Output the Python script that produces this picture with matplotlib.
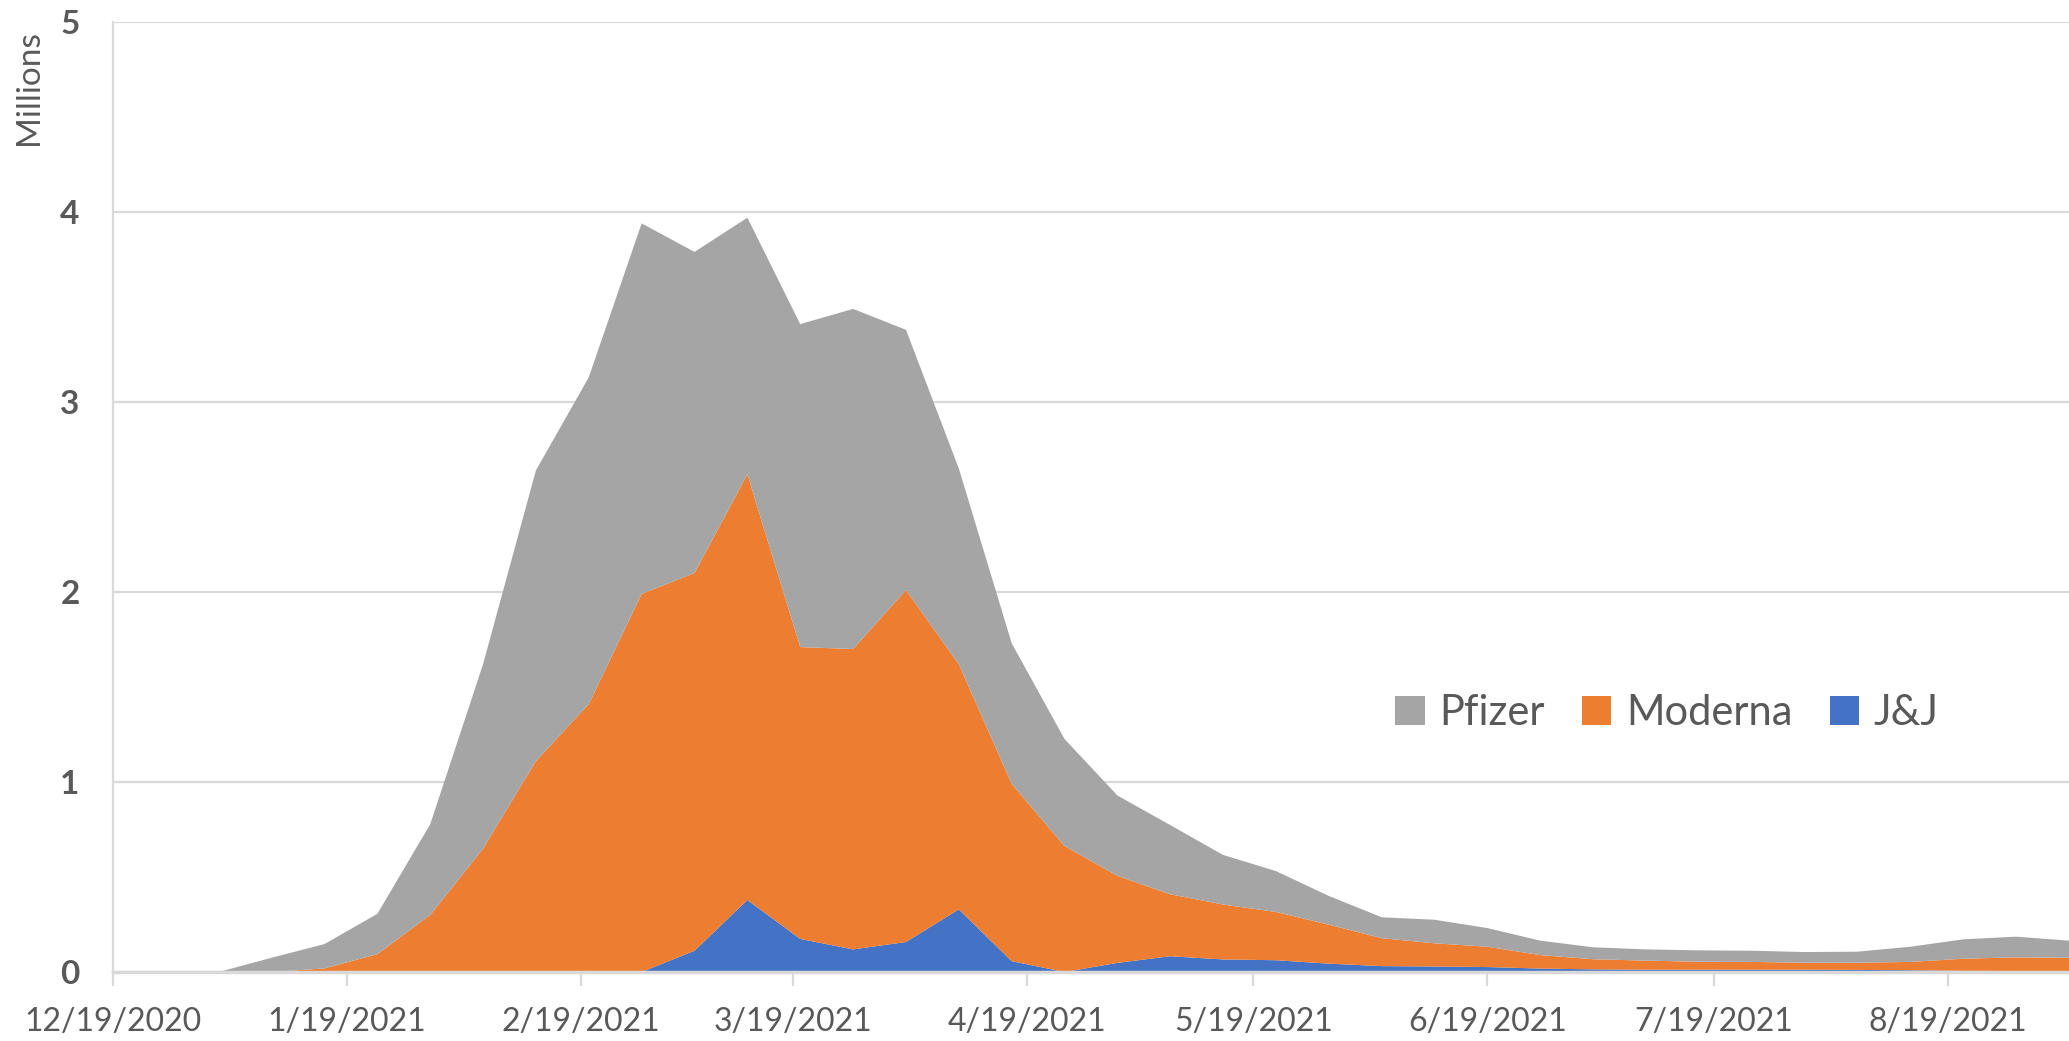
import matplotlib
matplotlib.use("Agg")
import matplotlib.pyplot as plt
from matplotlib.patches import Patch
import pandas as pd

# ---- data (millions of doses per week) ----
weeks = ["2020-12-19", "2020-12-26", "2021-01-02", "2021-01-09", "2021-01-16",
         "2021-01-23", "2021-01-30", "2021-02-06", "2021-02-13", "2021-02-20",
         "2021-02-27", "2021-03-06", "2021-03-13", "2021-03-20", "2021-03-27",
         "2021-04-03", "2021-04-10", "2021-04-17", "2021-04-24", "2021-05-01",
         "2021-05-08", "2021-05-15", "2021-05-22", "2021-05-29", "2021-06-05",
         "2021-06-12", "2021-06-19", "2021-06-26", "2021-07-03", "2021-07-10",
         "2021-07-17", "2021-07-24", "2021-07-31", "2021-08-07", "2021-08-14",
         "2021-08-21", "2021-08-28", "2021-09-04"]

jj = [0, 0, 0, 0, 0,
      0, 0, 0, 0, 0,
      0, 0.112, 0.379, 0.174, 0.119,
      0.158, 0.330, 0.057, 0, 0.048,
      0.083, 0.066, 0.062, 0.044, 0.031,
      0.029, 0.026, 0.018, 0.014, 0.012,
      0.012, 0.012, 0.012, 0.011, 0.009,
      0.006, 0.005, 0.005]

moderna = [0, 0, 0, 0.0, 0.019,
           0.094, 0.300, 0.649, 1.110, 1.410,
           1.990, 1.988, 2.241, 1.536, 1.581,
           1.852, 1.290, 0.933, 0.663, 0.458,
           0.326, 0.289, 0.254, 0.205, 0.147,
           0.122, 0.107, 0.071, 0.053, 0.048,
           0.042, 0.041, 0.037, 0.038, 0.044,
           0.064, 0.072, 0.070]

pfizer = [0, 0, 0, 0.075, 0.128,
          0.212, 0.477, 0.971, 1.530, 1.720,
          1.950, 1.690, 1.350, 1.700, 1.790,
          1.370, 1.030, 0.740, 0.563, 0.423,
          0.364, 0.261, 0.215, 0.151, 0.110,
          0.124, 0.098, 0.076, 0.063, 0.059,
          0.060, 0.059, 0.056, 0.058, 0.080,
          0.102, 0.109, 0.090]

series_names = ["Pfizer", "Moderna", "J&J"]
tick_labels = ["12/19/2020", "1/19/2021", "2/19/2021", "3/19/2021", "4/19/2021",
               "5/19/2021", "6/19/2021", "7/19/2021", "8/19/2021"]
y_ticks = [0, 1, 2, 3, 4, 5]

# ---- style ----
C_PFIZER = "#A5A5A5"
C_MODERNA = "#ED7D31"
C_JJ = "#4472C4"
TXT = "#595959"
GRID = "#D9D9D9"
FONT = "Lato"

plt.rcParams["font.family"] = [FONT, "DejaVu Sans"]

x = pd.to_datetime(weeks)
tick_pos = pd.to_datetime(tick_labels, format="%m/%d/%Y")

fig = plt.figure(figsize=(20.69, 10.41), dpi=100)
ax = fig.add_axes([113 / 2069, (1041 - 972) / 1041, (2069 - 113) / 2069, 950 / 1041])

ax.stackplot(x, jj, moderna, pfizer,
             colors=[C_JJ, C_MODERNA, C_PFIZER], linewidth=0, zorder=2)

ax.set_xlim(x[0], x[-1])
ax.set_ylim(0, 5)

# grid
ax.set_yticks(y_ticks)
ax.yaxis.grid(True, color=GRID, linewidth=1.6, zorder=0)
ax.set_axisbelow(True)

# spines
for s in ["top", "right"]:
    ax.spines[s].set_visible(False)
ax.spines["left"].set_color(GRID)
ax.spines["left"].set_linewidth(1.6)
ax.spines["bottom"].set_color(GRID)
ax.spines["bottom"].set_linewidth(2.5)
ax.spines["bottom"].set_zorder(3)

# y tick labels
ax.tick_params(axis="y", length=0, pad=24, labelsize=24, labelcolor=TXT)
for lab in ax.get_yticklabels():
    lab.set_fontweight("bold")

# x ticks
ax.set_xticks(tick_pos)
ax.set_xticklabels(tick_labels)
ax.tick_params(axis="x", length=10, width=1.6, color=GRID, pad=15,
               labelsize=23, labelcolor=TXT)

# y-axis title
fig.text(29 / 2069, 1 - 88 / 1041, "Millions", rotation=90, ha="center",
         va="center", fontsize=24, color=TXT)

# legend
handles = [Patch(facecolor=C_PFIZER, edgecolor="none"),
           Patch(facecolor=C_MODERNA, edgecolor="none"),
           Patch(facecolor=C_JJ, edgecolor="none")]
leg = ax.legend(handles, series_names, loc="center", bbox_to_anchor=(0.7945, 0.2725),
                ncol=3, frameon=False, fontsize=30, handlelength=0.7,
                handleheight=0.7, handletextpad=0.35, columnspacing=0.9,
                labelcolor=TXT)

fig.savefig("out.png", dpi=100)
